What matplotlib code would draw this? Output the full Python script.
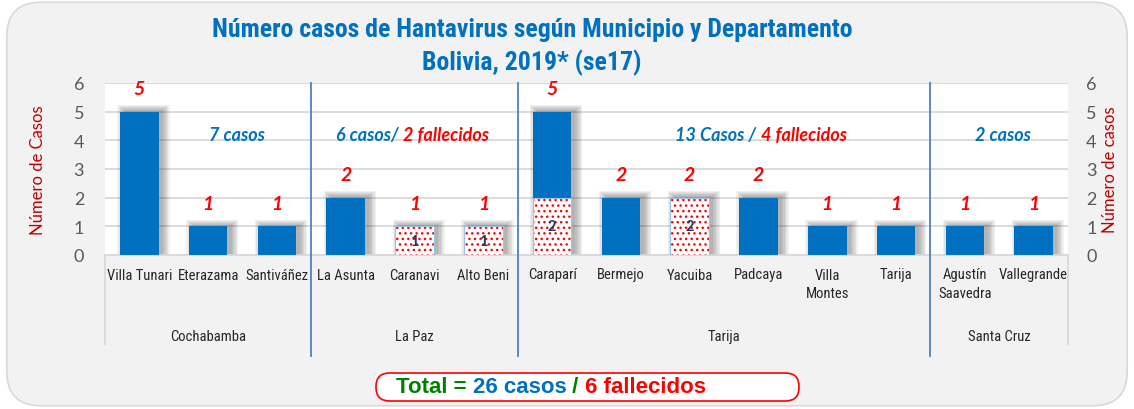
import matplotlib.pyplot as plt
from matplotlib import font_manager
from matplotlib.patches import FancyBboxPatch

## datos del grafico
municipios = ['Villa Tunari', 'Eterazama', 'Santiváñez', 'La Asunta', 'Caranavi', 'Alto Beni',
              'Carapaí'.replace('aí', 'arí'), 'Bermejo', 'Yacuiba', 'Padcaya', 'Villa\nMontes', 'Tarija',
              'Agustín\nSaavedra', 'Vallegrande']
departamentos = ['Cochabamba', 'La Paz', 'Tarija', 'Santa Cruz']
n_por_depto = [3, 3, 6, 2]
casos = [5, 1, 1, 2, 1, 1, 5, 2, 2, 2, 1, 1, 1, 1]
fallecidos = [0, 0, 0, 0, 1, 1, 2, 0, 2, 0, 0, 0, 0, 0]
resumen_casos = ['7 casos', '6 casos/ ', '13 Casos / ', '2 casos']
resumen_fall = ['', '2 fallecidos', '4 fallecidos', '']
partes_total = ['Total = ', '26 casos', ' / ', '6 fallecidos']

azul = '#0070C0'
rojo = '#FF0000'
colores_total = ['#008000', azul, '#008000', rojo]

# fuente estrecha si existe
nombres = {f.name for f in font_manager.fontManager.ttflist}
estrecha = next((n for n in ['Liberation Sans Narrow', 'Roboto Condensed', 'Open Sans Condensed']
                 if n in nombres), 'DejaVu Sans')
calibri = 'Lato' if 'Lato' in nombres else 'DejaVu Sans'

fig = plt.figure(figsize=(11.34, 4.10), dpi=100, facecolor='white')
fondo = FancyBboxPatch((0.006, 0.008), 0.988, 0.984, boxstyle='round,pad=0,rounding_size=0.03',
                       transform=fig.transFigure, facecolor='#F2F2F2', edgecolor='#D9D9D9',
                       lw=1.2, mutation_aspect=1134 / 410, zorder=-5)
fig.patches.append(fondo)

ax = fig.add_axes([105 / 1134, (410 - 256) / 410, 963 / 1134, 172 / 410])
ax.set_facecolor('white')
x = list(range(len(municipios)))
ancho = 0.56

# sombras difusas
for k in range(6):
    ax.bar([i + 0.06 for i in x], [c + 0.06 + 0.035 * k for c in casos], width=ancho + 0.04 * k,
           color='#404040', alpha=0.08, lw=0, zorder=1)

# parte azul (casos sin fallecer)
vivos = [c - f for c, f in zip(casos, fallecidos)]
ax.bar(x, vivos, bottom=fallecidos, width=ancho, color=azul, lw=0, zorder=3)
# parte punteada (fallecidos)
plt.rcParams['hatch.linewidth'] = 1.0
ax.bar(x, fallecidos, width=ancho, color='white', edgecolor=rojo, hatch='...', lw=0, zorder=3)
ax.bar(x, fallecidos, width=ancho, fill=False, edgecolor='#9DC3E6', lw=0.8, zorder=4)

for i in x:
    ax.text(i, casos[i] + 0.8, str(casos[i]), ha='center', va='center', color=rojo,
            fontsize=14, fontweight='bold', style='italic', family=calibri, zorder=5)
    if fallecidos[i] > 0:
        ax.text(i, fallecidos[i] / 2, str(fallecidos[i]), ha='center', va='center', color='#1F3864',
                fontsize=10.5, fontweight='bold', family=calibri, zorder=5)

ax.set_xlim(-0.5, len(municipios) - 0.5)
ax.set_ylim(0, 6)
ax.set_yticks(range(7))
ax.grid(axis='y', color='#D9D9D9', lw=1.3, zorder=0)
ax.set_axisbelow(True)
for s in ax.spines.values():
    s.set_visible(False)
ax.tick_params(axis='y', length=0, pad=15, labelsize=13, labelcolor='#595959')
for t in ax.get_yticklabels():
    t.set_family(calibri)
ax.set_xticks(x)
ax.set_xticklabels(municipios, family=estrecha, fontsize=10.5, color='#262626', linespacing=1.4)
ax.tick_params(axis='x', length=0, pad=9)
ax.set_ylabel('Número de Casos', color='#C00000', fontsize=12, family=calibri, labelpad=20)

ax2 = ax.twinx()
ax2.set_ylim(0, 6)
ax2.set_yticks(range(7))
for s in ax2.spines.values():
    s.set_visible(False)
ax2.tick_params(axis='y', length=0, pad=13, labelsize=13, labelcolor='#595959')
for t in ax2.get_yticklabels():
    t.set_family(calibri)
ax2.set_ylabel('Número de casos', color='#C00000', fontsize=12, family=calibri, labelpad=4)

# eje de categorias con departamentos
tr = ax.get_xaxis_transform()
ax.plot([-0.5, -0.5], [0, -0.52], color='#D9D9D9', lw=1.3, transform=tr, clip_on=False)
ax.plot([len(municipios) - 0.5] * 2, [0, -0.52], color='#D9D9D9', lw=1.3, transform=tr, clip_on=False)
ax.plot([-0.5, len(municipios) - 0.5], [0, 0], color='#D9D9D9', lw=1.3, transform=tr, clip_on=False)
inicio = 0
for d, n in enumerate(n_por_depto):
    centro = inicio + (n - 1) / 2
    ax.text(centro, -0.47, departamentos[d], transform=tr, ha='center', va='center',
            family=estrecha, fontsize=10.5, color='#262626')
    if d > 0:
        ax.plot([inicio - 0.5] * 2, [1.0, -0.59], color='#4F81BD', lw=1.3, transform=tr,
                clip_on=False, zorder=6)
    inicio += n

# resumen por departamento
pos_resumen = [1.42, 3.83, 9.03, 12.55]
for d in range(4):
    if resumen_fall[d]:
        ax.text(pos_resumen[d], 4.2, resumen_casos[d], ha='right', va='center', color=azul,
                fontsize=13, fontweight='bold', style='italic', family=calibri)
        ax.text(pos_resumen[d], 4.2, resumen_fall[d], ha='left', va='center', color=rojo,
                fontsize=13, fontweight='bold', style='italic', family=calibri)
    else:
        ax.text(pos_resumen[d], 4.2, resumen_casos[d], ha='center', va='center', color=azul,
                fontsize=13, fontweight='bold', style='italic', family=calibri)

# titulo
fig.text(532 / 1134, 1 - 30 / 410, 'Número casos de Hantavirus según Municipio y Departamento',
         ha='center', va='center', color=azul, fontsize=18.5, fontweight='bold', family=estrecha)
fig.text(532 / 1134, 1 - 63 / 410, 'Bolivia, 2019* (se17)', ha='center', va='center', color=azul,
         fontsize=18.5, fontweight='bold', family=estrecha)

# cuadro total
caja = FancyBboxPatch((376 / 1134, 8 / 410), 423 / 1134, 28 / 410,
                      boxstyle='round,pad=0,rounding_size=0.012', transform=fig.transFigure,
                      facecolor='white', edgecolor=rojo, lw=1.2, mutation_aspect=1134 / 410)
fig.patches.append(caja)
fig.canvas.draw()
x0 = 396
for txt, col in zip(partes_total, colores_total):
    t = fig.text(x0 / 1134, 1 - 388 / 410, txt, ha='left', va='center', color=col,
                 fontsize=16, fontweight='bold', family='Liberation Sans')
    bb = t.get_window_extent(renderer=fig.canvas.get_renderer())
    x0 = bb.x1

fig.savefig('out.png', dpi=100, facecolor=fig.get_facecolor())
